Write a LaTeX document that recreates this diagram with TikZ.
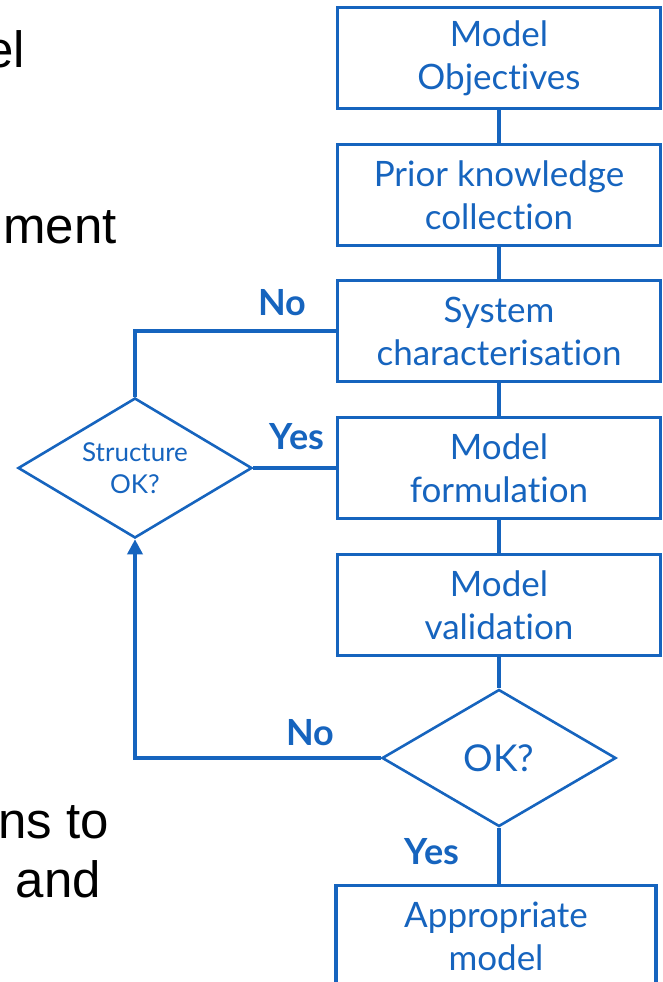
\documentclass[tikz,border=0pt]{standalone}
\usepackage{fontspec}
\setmainfont{Lato}[Ligatures=NoCommon]
\newfontfamily\bodyfont{Liberation Sans}
\usetikzlibrary{shapes.geometric,arrows.meta}
\definecolor{flowblue}{RGB}{22,100,190}

\begin{document}
\begin{tikzpicture}[x=1pt,y=-1pt,
  stepbox/.style={draw=flowblue, line width=3.5pt, minimum width=323pt,
    minimum height=101pt, inner sep=0pt, align=center, text=flowblue,
    font=\fontsize{35}{43}\selectfont},
  decision/.style={diamond, aspect=1.7, draw=flowblue, line width=2.6pt, inner sep=0pt,
    align=center, text=flowblue},
  conn/.style={draw=flowblue, line width=3.5pt},
  answer/.style={text=flowblue, font=\fontsize{36}{40}\selectfont\bfseries, inner sep=0pt},
  bodytext/.style={font=\bodyfont\fontsize{51}{60}\selectfont, inner sep=0pt, anchor=base east}
]
\useasboundingbox (0,0) rectangle (663,982);

% clipped lines of the slide's body text
\node[bodytext] (t1) at (25,67) {el};
\node[bodytext] (t2) at (117,243) {ment};
\node[bodytext] (t3) at (109,838) {ns to};
\node[bodytext] (t4) at (101,897) {and};

% process steps
\node[stepbox] (b1) at (499,58)  {Model\\Objectives};
\node[stepbox] (b2) at (499,195) {Prior knowledge\\collection};
\node[stepbox] (b3) at (499,331) {System\\characterisation};
\node[stepbox] (b4) at (499,468) {Model\\formulation};
\node[stepbox] (b5) at (499,605) {Model\\validation};
\node[stepbox, minimum width=320pt] (b6) at (496,936) {Appropriate\\model};

% decisions
\node[decision, minimum width=234pt, minimum height=140pt,
  font=\fontsize{26}{32}\selectfont] (st) at (135,468) {Structure\\OK?};
\node[decision, minimum width=234pt, minimum height=137pt,
  font=\fontsize{37}{40}\selectfont] (ok) at (499,758) {OK?};

% main flow
\draw[conn] (b1) -- (b2);
\draw[conn] (b2) -- (b3);
\draw[conn] (b3) -- (b4);
\draw[conn] (b4) -- (b5);
\draw[conn] (b5) -- (ok);
\draw[conn] (ok.south) -- (ok.south |- b6.north);

% feedback loops
\draw[conn, -{Triangle[width=15pt,length=15pt]}]
  (ok.west) -- (ok.west -| st.south) -- (st.south);
\draw[conn] (st.north) |- (b3.west);
\draw[conn] (st.east) -- (b4.west);

% branch labels
\node[answer] (l1) at (282,303) {No};
\node[answer] (l2) at (297,437) {Yes};
\node[answer] (l3) at (310,733) {No};
\node[answer] (l4) at (432,852) {Yes};
\end{tikzpicture}
\end{document}
